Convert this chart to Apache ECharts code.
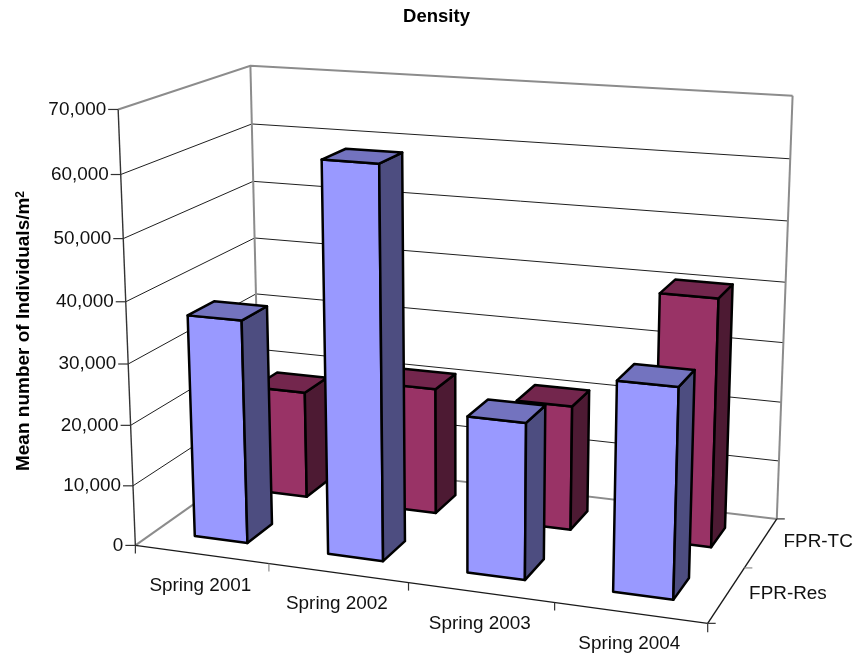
<!DOCTYPE html>
<html>
<head>
<meta charset="utf-8">
<style>html,body{margin:0;padding:0;background:#fff}#chart{width:857px;height:660px}</style>
<script src="https://cdn.jsdelivr.net/npm/echarts@6/dist/echarts.min.js"></script>
</head>
<body>
<div id="chart"></div>
<script>
// Chart content
const chartTitle = 'Density';
const yAxisTitle = 'Mean number of Individuals/m';
const yAxisTitleExponent = '2';
const categories = ['Spring 2001', 'Spring 2002', 'Spring 2003', 'Spring 2004'];
const yTicks = [0, 10000, 20000, 30000, 40000, 50000, 60000, 70000];
const fprRes = [36700, 63000, 25100, 33100];
const fprTc = [18350, 21350, 20850, 40700];
const rowNames = ['FPR-Res', 'FPR-TC'];

const FONT = '"Liberation Sans", Arial, sans-serif';
const TEXT_COLOR = '#111';
const GAP_FRACTION = 0.4;   // bar footprint relative to its cell, in both directions

// Camera calibration: box coordinates (across, up, deep), each 0..1, and where they land on the page.
const calibration = [
  [[0, 0, 0], [135.7, 545]], [[0, 1, 0], [118.5, 109]],
  [[0, 0, 1], [260, 457]],   [[0, 1, 1], [250, 66]],
  [[1, 0, 1], [776.7, 519]], [[1, 1, 1], [792.7, 96]],
  [[1, 0, 0], [707.7, 622]], [[0.25, 0, 0], [269, 564]],
  [[0.5, 0, 0], [408, 584]], [[0.75, 0, 0], [554, 603]],
  [[1, 0, 0.5], [745, 567.7]]
];

// Least-squares fit of the 3x4 projection matrix (last element fixed at 1).
function fitCamera(pairs) {
  const n = 11;
  const A = Array.from({ length: n }, () => new Array(n + 1).fill(0));
  const add = (row, rhs) => {
    for (let i = 0; i < n; i++) {
      for (let j = 0; j < n; j++) A[i][j] += row[i] * row[j];
      A[i][n] += row[i] * rhs;
    }
  };
  pairs.forEach(([[X, Y, Z], [x, y]]) => {
    add([X, Y, Z, 1, 0, 0, 0, 0, -x * X, -x * Y, -x * Z], x);
    add([0, 0, 0, 0, X, Y, Z, 1, -y * X, -y * Y, -y * Z], y);
  });
  for (let c = 0; c < n; c++) {
    let best = c;
    for (let r = c + 1; r < n; r++) if (Math.abs(A[r][c]) > Math.abs(A[best][c])) best = r;
    [A[c], A[best]] = [A[best], A[c]];
    for (let r = 0; r < n; r++) {
      if (r === c) continue;
      const f = A[r][c] / A[c][c];
      for (let k = c; k <= n; k++) A[r][k] -= f * A[c][k];
    }
  }
  return A.map((row, i) => row[n] / row[i]);
}
const cam = fitCamera(calibration);
function project(u, v, w) {
  const d = cam[8] * u + cam[9] * v + cam[10] * w + 1;
  return [
    (cam[0] * u + cam[1] * v + cam[2] * w + cam[3]) / d,
    (cam[4] * u + cam[5] * v + cam[6] * w + cam[7]) / d
  ];
}

// Normalised box coordinates come from the library's own hidden axes.
const upOf = (api, value) => 1 - api.coord([0, value])[1] / api.getHeight();
const acrossOf = (api, index) => api.coord([index, 0])[0] / api.getWidth();
const cellOf = api => api.size([1, 0])[0] / api.getWidth();

const line = (pts, stroke, lineWidth) => ({
  type: 'polyline', silent: true,
  shape: { points: pts },
  style: { stroke, lineWidth, fill: null, lineJoin: 'miter' }
});
const label = (text, x, y, align) => ({
  type: 'text', silent: true,
  style: { text, x, y, align, verticalAlign: 'middle', fill: TEXT_COLOR, font: '18.9px ' + FONT }
});

// Value ticks, wall gridlines and value labels.
function renderValueTick(params, api) {
  const value = api.value(1);
  const v = upOf(api, value);
  const a = project(0, v, 0), b = project(0, v, 1), c = project(1, v, 1);
  const children = [];
  if (value > 0) {
    const top = value === yTicks[yTicks.length - 1];
    children.push(line([a, b, c], top ? '#8c8c8c' : '#1f1f1f', top ? 2 : 1));
  }
  children.push(line([[a[0] - 10, a[1]], a], '#333', 1.2));
  children.push(label(value.toLocaleString('en-US'), a[0] - 12, a[1], 'right'));
  return { type: 'group', children };
}

// Box edges that carry no data: back-wall uprights, floor outline, axis ticks.
function renderFrame(params, api) {
  const grey = '#8c8c8c', dark = '#1a1a1a';
  const fb = project(0, 0, 0), ft = project(0, 1, 0), bl = project(0, 0, 1), blt = project(0, 1, 1);
  const br = project(1, 0, 1), brt = project(1, 1, 1), fr = project(1, 0, 0), mid = project(1, 0, 0.5);
  return {
    type: 'group',
    children: [
      line([blt, bl], grey, 2), line([brt, br], grey, 2),
      line([fb, bl], grey, 2), line([bl, br], grey, 2),
      line([ft, fb], '#333', 1.4),
      line([fb, fr], dark, 1.4), line([fr, br], dark, 1.4),
      line([fb, [fb[0], fb[1] + 8]], '#333', 1.2),
      line([fr, [fr[0], fr[1] + 9]], '#333', 1.2),
      line([fr, [fr[0] + 8, fr[1]]], '#333', 1.2),
      line([br, [br[0] + 8, br[1]]], '#333', 1.2),
      line([mid, [mid[0] + 8, mid[1]]], grey, 1.2)
    ]
  };
}

// Category ticks and labels along the front floor edge.
function renderCategory(params, api) {
  const index = api.value(0);
  const u = acrossOf(api, index);
  const cell = cellOf(api);
  const children = [];
  const anchor = project(u, 0, 0);
  children.push(label(categories[index], anchor[0] - 1, anchor[1] + 31, 'center'));
  if (index < categories.length - 1) {
    const t = project(u + cell / 2, 0, 0);
    children.push(line([t, [t[0], t[1] + 8]], index === 0 ? '#8c8c8c' : '#333', 1.2));
  }
  return { type: 'group', children };
}

// Row labels beside the right floor edge.
function renderRowLabels() {
  return {
    type: 'group',
    children: rowNames.map((name, i) => {
      const w = (i + 0.5) / rowNames.length;
      const p = project(1, 0, w);
      return label(name, p[0] + 22.5, p[1] - 1, 'left');
    })
  };
}

// One bar: front, top and right-hand faces of a box standing on the floor.
function barRenderer(row, front, top, side) {
  return function (params, api) {
    const u = acrossOf(api, api.value(0));
    const cell = cellOf(api);
    const v = upOf(api, api.value(1));
    const halfU = cell * GAP_FRACTION / 2;
    const rowDepth = 1 / rowNames.length;
    const w = (row + 0.5) * rowDepth;
    const halfW = rowDepth * GAP_FRACTION / 2;
    const P = (su, sv, sw) => project(u + su * halfU, sv ? v : 0, w + sw * halfW);
    const face = (pts, fill) => ({
      type: 'polygon', silent: true,
      shape: { points: pts },
      style: { fill, stroke: '#000', lineWidth: 2.5, lineJoin: 'round' }
    });
    return {
      type: 'group',
      children: [
        face([P(-1, 0, -1), P(1, 0, -1), P(1, 1, -1), P(-1, 1, -1)], front),
        face([P(1, 0, -1), P(1, 0, 1), P(1, 1, 1), P(1, 1, -1)], side),
        face([P(-1, 1, -1), P(1, 1, -1), P(1, 1, 1), P(-1, 1, 1)], top)
      ]
    };
  };
}

const chart = echarts.init(document.getElementById('chart'), null, { renderer: 'canvas' });
const custom = (name, data, renderItem, z) => ({
  type: 'custom', name, data, renderItem, z, clip: false, silent: true,
  coordinateSystem: 'cartesian2d', encode: { x: 0, y: 1 }
});
chart.setOption({
  animation: false,
  backgroundColor: '#ffffff',
  graphic: [{
    type: 'text', x: 436.5, y: 17, silent: true,
    style: {
      text: chartTitle, align: 'center', verticalAlign: 'middle',
      fill: '#000', font: 'bold 18.5px ' + FONT
    }
  }, {
    type: 'text', x: 24, y: 331, rotation: Math.PI / 2, silent: true,
    style: {
      text: '{b|' + yAxisTitle + '}{s|' + yAxisTitleExponent + '}',
      align: 'center', verticalAlign: 'middle', fill: '#000',
      rich: {
        b: { fontFamily: FONT, fontWeight: 'bold', fontSize: 19, fill: '#000' },
        s: { fontFamily: FONT, fontWeight: 'bold', fontSize: 12, fill: '#000', verticalAlign: 'top' }
      }
    }
  }],
  grid: { left: 0, right: 0, top: 0, bottom: 0 },
  xAxis: { type: 'category', data: categories, show: false },
  yAxis: { type: 'value', min: 0, max: 70000, interval: 10000, show: false },
  series: [
    custom('ticks', yTicks.map(t => [categories[0], t]), renderValueTick, 1),
    custom('frame', [[categories[0], 0]], renderFrame, 2),
    custom('categories', categories.map(c => [c, 0]), renderCategory, 3),
    custom('rows', [[categories[0], 0]], renderRowLabels, 3),
    custom(rowNames[1], categories.map((c, i) => [c, fprTc[i]]), barRenderer(1, '#993366', '#73264D', '#4D1A33'), 4),
    custom(rowNames[0], categories.map((c, i) => [c, fprRes[i]]), barRenderer(0, '#9999FF', '#7373BF', '#4D4D80'), 5)
  ]
});
</script>
</body>
</html>
